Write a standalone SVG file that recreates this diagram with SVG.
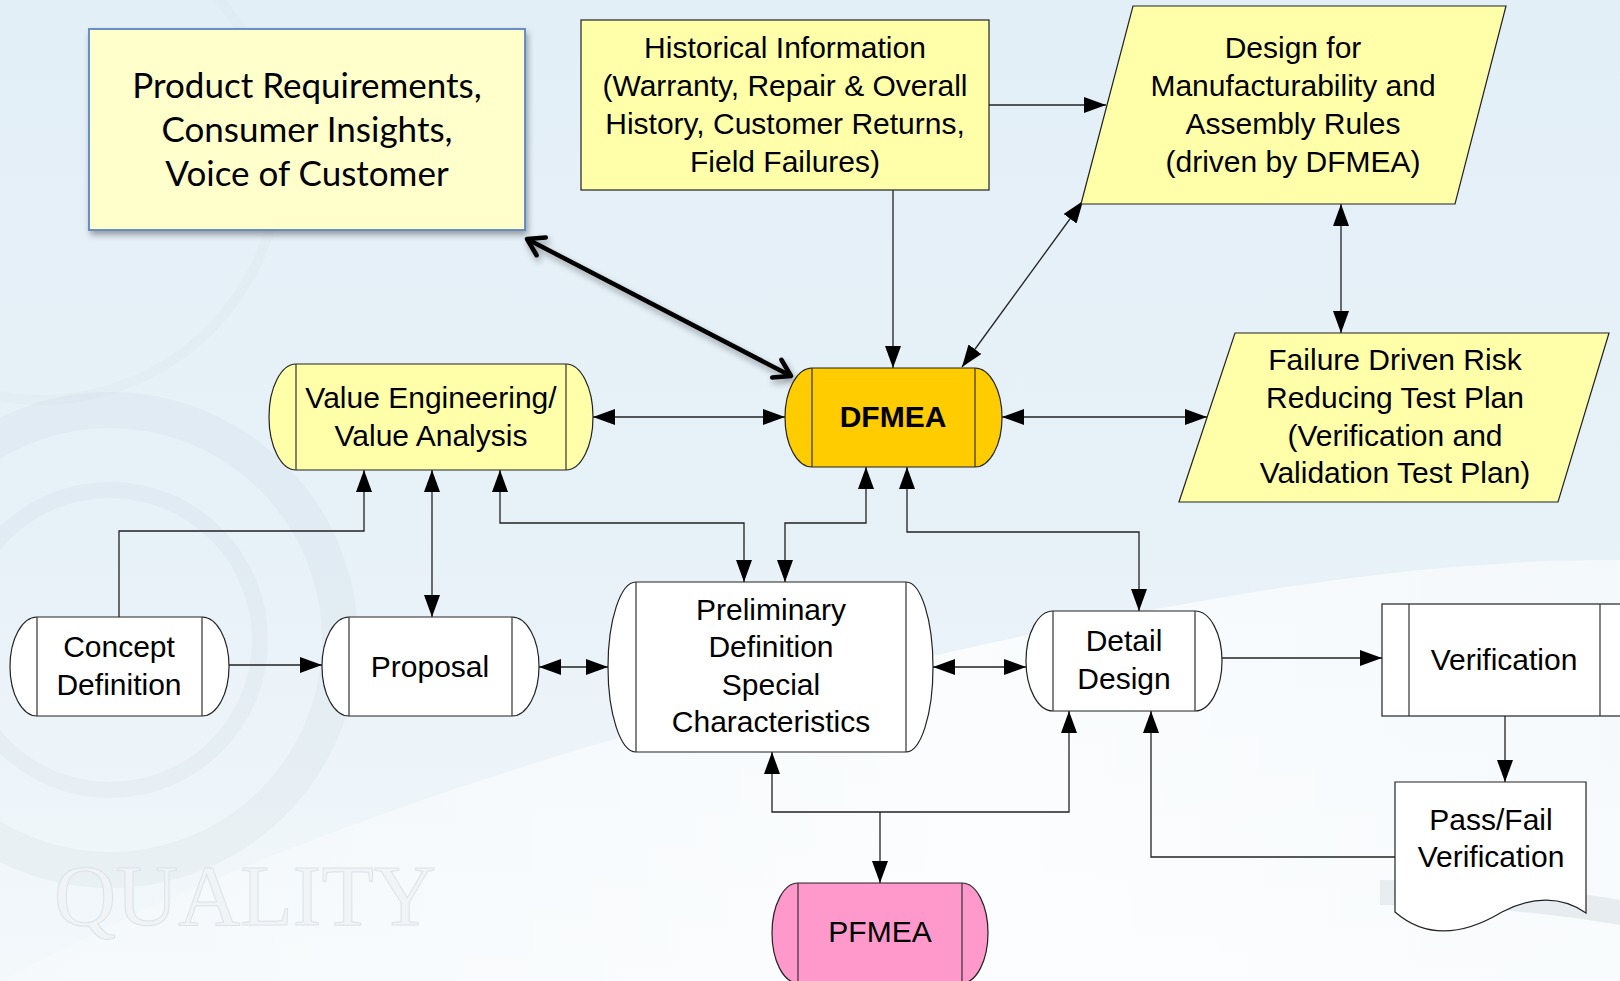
<svg xmlns="http://www.w3.org/2000/svg" width="1620" height="981" viewBox="0 0 1620 981">
<defs>
  <linearGradient id="bg" x1="0" y1="0" x2="0" y2="1">
    <stop offset="0" stop-color="#E3EFF7"/>
    <stop offset="0.55" stop-color="#E7F1F8"/>
    <stop offset="1" stop-color="#F3F8FB"/>
  </linearGradient>
  <linearGradient id="sw" x1="0" y1="0" x2="1" y2="0">
    <stop offset="0" stop-color="#FFFFFF" stop-opacity="0.2"/>
    <stop offset="0.6" stop-color="#FFFFFF" stop-opacity="0.75"/>
    <stop offset="1" stop-color="#FFFFFF" stop-opacity="0.5"/>
  </linearGradient>
  <filter id="shadow" x="-10%" y="-10%" width="130%" height="140%">
    <feDropShadow dx="2" dy="4" stdDeviation="3" flood-color="#000" flood-opacity="0.35"/>
  </filter>
  <marker id="ah" markerUnits="userSpaceOnUse" viewBox="0 0 22 16" markerWidth="22" markerHeight="16" refX="22" refY="8" orient="auto-start-reverse">
    <path d="M0,0 L22,8 L0,16 z" fill="#000"/>
  </marker>
  <marker id="oh" markerUnits="userSpaceOnUse" viewBox="0 0 26 26" markerWidth="26" markerHeight="26" refX="22" refY="13" orient="auto-start-reverse">
    <path d="M6,3 L22,13 L6,23" fill="none" stroke="#000" stroke-width="4.5" stroke-linecap="round" stroke-linejoin="round"/>
  </marker>
  <style>
    .t { font-family: "Liberation Sans", Arial, sans-serif; font-size: 30px; fill: #000; text-anchor: middle; }
    .tc { font-family: Lato, "Liberation Sans", sans-serif; font-size: 35px; fill: #000; text-anchor: middle; }
    .b { font-weight: bold; }
    .box { stroke: #222; stroke-width: 1.2; }
    .inner { stroke: #333; stroke-width: 1.2; fill: none; }
    .yel { fill: #FFFFAA; }
    .wht { fill: #FFFFFF; }
    .conn path { fill: none; stroke: #222; stroke-width: 1.3; }
    .two { marker-start: url(#ah); marker-end: url(#ah); }
    .one { marker-end: url(#ah); }
  </style>
</defs>

<!-- background -->
<g id="background">
  <rect x="0" y="0" width="1620" height="981" fill="url(#bg)"/>
  <g fill="none" stroke="#B9C6D0" stroke-opacity="0.13">
    <circle cx="110" cy="640" r="230" stroke-width="36"/>
    <circle cx="110" cy="640" r="150" stroke-width="16"/>
    <circle cx="40" cy="160" r="240" stroke-width="10" stroke-opacity="0.08"/>
  </g>
  <path d="M0,981 C300,820 700,700 1100,620 C1350,570 1500,560 1620,560 L1620,981 Z" fill="url(#sw)"/>
  <path d="M1380,880 C1480,880 1560,890 1620,900 L1620,925 C1560,915 1480,905 1380,905 Z" fill="#D5DEE5" opacity="0.5"/>
  <text x="54" y="925" font-family="'Liberation Serif', serif" font-size="86" fill="#F0F4F7" stroke="#DCE3E8" stroke-width="1">QUALITY</text>
</g>

<!-- connectors -->
<g id="connectors" class="conn">
  <path class="one" d="M989,105 H1106"/>
  <path class="one" d="M893,190 V368"/>
  <path class="two" d="M962,367 L1083,201"/>
  <path class="two" d="M1341,204 V333"/>
  <path class="two" d="M593,417 H785"/>
  <path class="two" d="M1002,417 H1207"/>
  <path d="M527,239 L791,376" style="stroke:#000;stroke-width:4.5;marker-start:url(#oh);marker-end:url(#oh);filter:url(#shadow)"/>
  <path class="one" d="M119,617 V531 H364 V470"/>
  <path class="two" d="M432,470 V617"/>
  <path class="two" d="M500,470 V523 H744 V582"/>
  <path class="two" d="M866,467 V523 H785 V582"/>
  <path class="two" d="M907,467 V532 H1139 V611"/>
  <path class="one" d="M228,665 H322"/>
  <path class="two" d="M539,667 H608"/>
  <path class="two" d="M933,667 H1026"/>
  <path class="one" d="M1222,658 H1382"/>
  <path class="one" d="M1505,716 V782"/>
  <path class="one" d="M1395,857 H1151 V711"/>
  <path class="two" d="M772,752 V812 H1069 V711"/>
  <path class="one" d="M880,812 V883"/>
</g>

<!-- nodes -->
<g id="product-requirements">
  <rect x="89" y="29" width="436" height="201" fill="#FFFFCC" stroke="#5B86BE" stroke-width="1.8" filter="url(#shadow)"/>
  <text class="tc" x="307" y="98">Product Requirements,</text>
  <text class="tc" x="307" y="142">Consumer Insights,</text>
  <text class="tc" x="307" y="186">Voice of Customer</text>
</g>

<g id="historical-information">
  <rect class="box yel" x="581" y="20" width="408" height="170"/>
  <text class="t" x="785" y="58">Historical Information</text>
  <text class="t" x="785" y="96">(Warranty, Repair &amp; Overall</text>
  <text class="t" x="785" y="134">History, Customer Returns,</text>
  <text class="t" x="785" y="172">Field Failures)</text>
</g>

<g id="design-for-manufacturability">
  <path class="box yel" d="M1133,6 H1506 L1455,204 H1081 Z"/>
  <text class="t" x="1293" y="58">Design for</text>
  <text class="t" x="1293" y="96">Manufacturability and</text>
  <text class="t" x="1293" y="134">Assembly Rules</text>
  <text class="t" x="1293" y="172">(driven by DFMEA)</text>
</g>

<g id="failure-driven-test-plan">
  <path class="box yel" d="M1235,333 H1609 L1558,502 H1179 Z"/>
  <text class="t" x="1395" y="370">Failure Driven Risk</text>
  <text class="t" x="1395" y="408">Reducing Test Plan</text>
  <text class="t" x="1395" y="446">(Verification and</text>
  <text class="t" x="1395" y="483">Validation Test Plan)</text>
</g>

<g id="value-engineering">
  <path class="box yel" d="M296,364 H566 A27,53 0 0 1 566,470 H296 A27,53 0 0 1 296,364 Z"/>
  <path class="inner" d="M296,364 V470 M566,364 V470"/>
  <text class="t" x="431" y="408">Value Engineering/</text>
  <text class="t" x="431" y="446">Value Analysis</text>
</g>

<g id="dfmea">
  <path class="box" fill="#FFCC00" stroke="#5A4A10" d="M812,368 H975 A27,49.5 0 0 1 975,467 H812 A27,49.5 0 0 1 812,368 Z"/>
  <path class="inner" stroke="#6B5A20" d="M812,368 V467 M975,368 V467"/>
  <text class="t b" x="893" y="427">DFMEA</text>
</g>

<g id="concept-definition">
  <path class="box wht" d="M37,617 H202 A27,49.5 0 0 1 202,716 H37 A27,49.5 0 0 1 37,617 Z"/>
  <path class="inner" d="M37,617 V716 M202,617 V716"/>
  <text class="t" x="119" y="657">Concept</text>
  <text class="t" x="119" y="695">Definition</text>
</g>

<g id="proposal">
  <path class="box wht" d="M349,617 H512 A27,49.5 0 0 1 512,716 H349 A27,49.5 0 0 1 349,617 Z"/>
  <path class="inner" d="M349,617 V716 M512,617 V716"/>
  <text class="t" x="430" y="677">Proposal</text>
</g>

<g id="preliminary-definition">
  <path class="box wht" d="M636,582 H906 A27,85 0 0 1 906,752 H636 A28,85 0 0 1 636,582 Z"/>
  <path class="inner" d="M636,582 V752 M906,582 V752"/>
  <text class="t" x="771" y="620">Preliminary</text>
  <text class="t" x="771" y="657">Definition</text>
  <text class="t" x="771" y="695">Special</text>
  <text class="t" x="771" y="732">Characteristics</text>
</g>

<g id="detail-design">
  <path class="box wht" d="M1053,611 H1195 A27,50 0 0 1 1195,711 H1053 A27,50 0 0 1 1053,611 Z"/>
  <path class="inner" d="M1053,611 V711 M1195,611 V711"/>
  <text class="t" x="1124" y="651">Detail</text>
  <text class="t" x="1124" y="689">Design</text>
</g>

<g id="verification">
  <rect class="box wht" x="1382" y="604" width="260" height="112"/>
  <path class="inner" d="M1409,604 V716 M1600,604 V716"/>
  <text class="t" x="1504" y="670">Verification</text>
</g>

<g id="pass-fail-verification">
  <path class="box wht" d="M1395,782 H1586 V913 C1562,896 1532,896 1502,912 C1472,930 1432,944 1395,912 Z"/>
  <text class="t" x="1491" y="830">Pass/Fail</text>
  <text class="t" x="1491" y="867">Verification</text>
</g>

<g id="pfmea">
  <path class="box" fill="#FF99CC" d="M798,883 H962 A26,50 0 0 1 962,983 H798 A26,50 0 0 1 798,883 Z"/>
  <path class="inner" d="M798,883 V983 M962,883 V983"/>
  <text class="t" x="880" y="942">PFMEA</text>
</g>
</svg>
